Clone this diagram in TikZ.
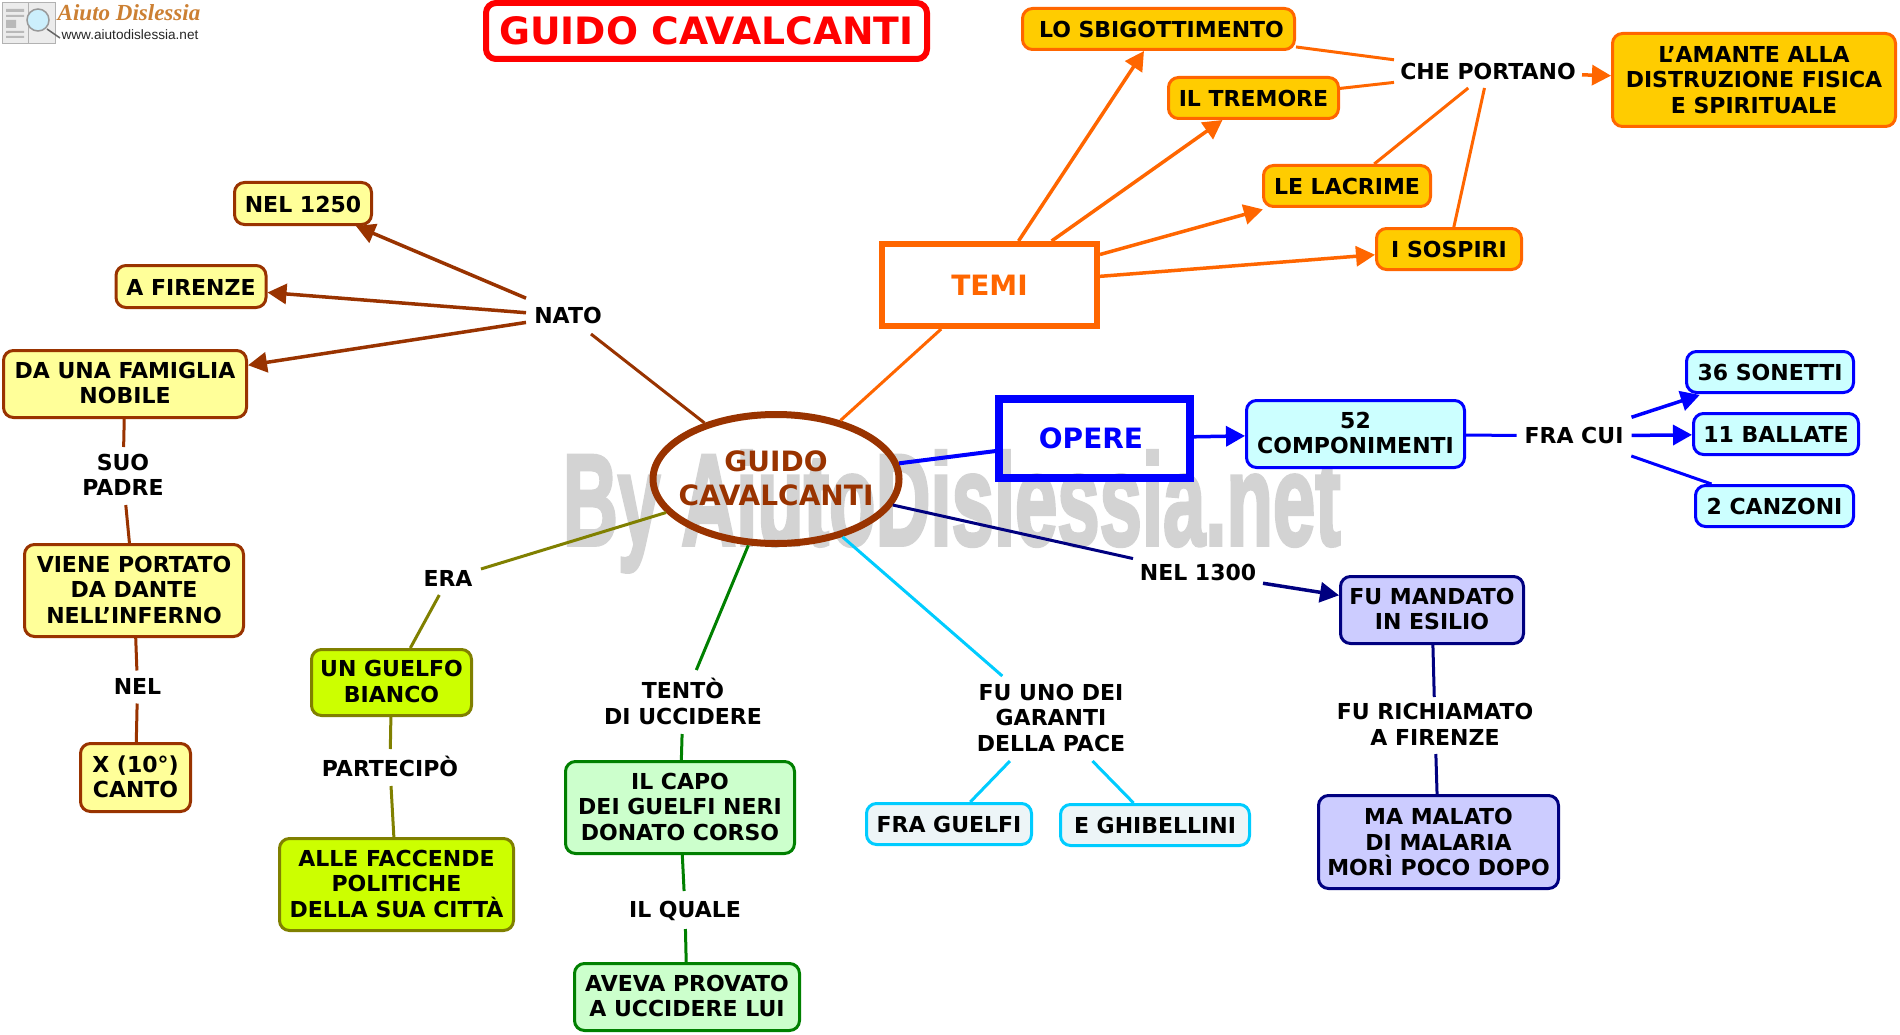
\documentclass[tikz,border=0pt]{standalone}
\usepackage{fontspec}
\setmainfont{DejaVu Sans}
\newfontfamily\wmfont{Liberation Sans}[BoldFeatures={FakeBold=3}]
\newfontfamily\urlfont{Liberation Sans}
\newfontfamily\logofont{Liberation Serif}
\usetikzlibrary{arrows.meta,shapes.geometric}
\definecolor{brn}{HTML}{993300}
\definecolor{orng}{HTML}{FF6600}
\definecolor{gold}{HTML}{FFCC00}
\definecolor{pyel}{HTML}{FFFF99}
\definecolor{pcy}{HTML}{CCFFFF}
\definecolor{ppur}{HTML}{CCCCFF}
\definecolor{navyc}{HTML}{000080}
\definecolor{oliv}{HTML}{808000}
\definecolor{lime}{HTML}{CCFF00}
\definecolor{grn}{HTML}{008000}
\definecolor{pgrn}{HTML}{CCFFCC}
\definecolor{skyc}{HTML}{00CCFF}
\definecolor{pale}{HTML}{EDF5F7}
\definecolor{wmgray}{HTML}{D3D3D3}
\newcommand{\nstr}{\vrule width 0pt height 20pt depth 5.6pt\relax}
\newcommand{\sstr}{\vrule width 0pt height 21.6pt depth 4pt\relax}
\newcommand{\mstr}{\vrule width 0pt height 23.6pt depth 2pt\relax}
\newcommand{\bstr}{\vrule width 0pt height 25pt depth 0pt\relax}
\tikzset{
 every node/.style={font=\fontsize{22}{25.6}\selectfont\bfseries,align=center,inner sep=0pt,outer sep=0pt,text=black},
 lab/.style={execute at begin node=\nstr,execute at end node=\nstr},
 slab/.style={execute at begin node=\sstr,execute at end node=\sstr},
 mlab/.style={execute at begin node=\mstr,execute at end node=\mstr},
 blab/.style={execute at begin node=\bstr,execute at end node=\bstr},
 bx/.style={draw,line width=3pt,rounded corners=10pt,outer sep=1.5pt},
 yb/.style={bx,draw=brn,fill=pyel},
 ob/.style={bx,draw=orng,fill=gold},
 cb/.style={bx,draw=blue,fill=pcy},
 pb/.style={bx,draw=navyc,fill=ppur},
 lb/.style={bx,draw=oliv,fill=lime},
 gb/.style={bx,draw=grn,fill=pgrn},
 sb/.style={bx,draw=skyc,fill=pale},
 con/.style={line width=3pt},
 arr/.style={line width=3.5pt,-{Triangle[length=19pt,width=20pt]}},
}
\begin{document}
\begin{tikzpicture}[x=1pt,y=-1pt]
\useasboundingbox (0,0) rectangle (1900,1035);
\fill[white] (0,0) rectangle (1900,1035);

% watermark
\node[anchor=base west,font=\wmfont\fontsize{130}{130}\selectfont\bfseries,text=wmgray,xscale=.585,transform shape] (wm) at (563,545) {\special{pdf:code 0.827 0.827 0.827 RG}By AiutoDislessia.net};

% logo
\fill[gray!15] (2,3) rectangle (55,44);
\draw[gray!60,line width=1pt] (2,3) rectangle (55,44) (28,3) -- (28,44);
\fill[gray!55] (6,9) rectangle (24,12) (6,15) rectangle (24,17) (6,20) rectangle (16,28) (6,31) rectangle (24,33) (6,36) rectangle (24,38);
\draw[black!60,line width=1.5pt] (47,29) -- (60,38);
\draw[gray!80,fill=cyan!20,line width=1.5pt] (38,20) circle (11);
\node[font=\logofont\fontsize{23}{25}\selectfont\bfseries\itshape,text=brown!80!orange] (logotitle) at (129,13) {Aiuto Dislessia};
\node[font=\urlfont\fontsize{13.6}{14}\selectfont,text=black!85] (logourl) at (130,35) {www.aiutodislessia.net};

% title
\node[draw=red,line width=6pt,rounded corners=10pt,font=\fontsize{37.7}{40}\selectfont\bfseries,text=red,minimum width=441pt,minimum height=56pt] (title) at (706.5,31) {GUIDO CAVALCANTI};

% central node
\node[ellipse,draw=brn,line width=7pt,outer sep=3.5pt,minimum width=246pt,minimum height=129pt,
  label={[font=\fontsize{28}{34}\selectfont\bfseries,text=brn,align=center,inner sep=0pt]center:\vrule width 0pt height 26.5pt depth 7.5pt GUIDO\\\vrule width 0pt height 26.5pt depth 7.5pt CAVALCANTI}] (main) at (776,479) {};

% left branch
\node[lab,minimum width=84pt,minimum height=36pt] (nato) at (568,316) {NATO};
\node[yb,slab,minimum width=137pt,minimum height=42pt] (nel1250) at (303,203.5) {NEL 1250};
\node[yb,slab,minimum width=150pt,minimum height=42pt] (afirenze) at (191,286.5) {A FIRENZE};
\node[yb,mlab,minimum width=243pt,minimum height=67pt] (famiglia) at (125,384) {DA UNA FAMIGLIA\\NOBILE};
\node[mlab,minimum width=99pt,minimum height=58pt] (suopadre) at (123,476) {SUO\\PADRE};
\node[yb,mlab,minimum width=219pt,minimum height=92pt] (viene) at (134,590.5) {VIENE PORTATO\\DA DANTE\\NELL'INFERNO};
\node[lab,minimum width=65pt,minimum height=33pt] (nellab) at (137.5,687) {NEL};
\node[yb,mlab,minimum width=110pt,minimum height=68pt] (canto) at (135.5,777.5) {X (10°)\\CANTO};

% era branch
\node[lab,minimum width=66pt,minimum height=32pt] (era) at (448,579) {ERA};
\node[lb,mlab,minimum width=160pt,minimum height=66pt] (guelfo) at (391.5,682.5) {UN GUELFO\\BIANCO};
\node[slab,minimum width=156pt,minimum height=37pt] (partecipo) at (390,767.5) {PARTECIPÒ};
\node[lb,mlab,minimum width=234pt,minimum height=92pt] (alle) at (396.5,884.5) {ALLE FACCENDE\\POLITICHE\\DELLA SUA CITTÀ};

% tento branch
\node[mlab,minimum width=176pt,minimum height=64pt] (tento) at (683,702) {TENTÒ\\DI UCCIDERE};
\node[gb,mlab,minimum width=229pt,minimum height=92pt] (capo) at (680,807.5) {IL CAPO\\DEI GUELFI NERI\\DONATO CORSO};
\node[lab,minimum width=130pt,minimum height=38pt] (quale) at (685,910) {IL QUALE};
\node[gb,mlab,minimum width=225pt,minimum height=67pt] (aveva) at (687,997) {AVEVA PROVATO\\A UCCIDERE LUI};

% garanti branch
\node[mlab,minimum width=161pt,minimum height=85pt] (garanti) at (1051,718.5) {FU UNO DEI\\GARANTI\\DELLA PACE};
\node[sb,slab,minimum width=165pt,minimum height=41pt] (fraguelfi) at (949,824) {FRA GUELFI};
\node[sb,slab,minimum width=189pt,minimum height=41pt] (ghibellini) at (1155,825) {E GHIBELLINI};

% nel 1300 branch
\node[lab,minimum width=130pt,minimum height=32pt] (nel1300) at (1198,573) {NEL 1300};
\node[pb,mlab,minimum width=183pt,minimum height=67pt] (mandato) at (1432,610) {FU MANDATO\\IN ESILIO};
\node[mlab,minimum width=214pt,minimum height=57pt] (richiamato) at (1435,725.5) {FU RICHIAMATO\\A FIRENZE};
\node[pb,blab,minimum width=240pt,minimum height=93pt] (malato) at (1438.5,842) {MA MALATO\\DI MALARIA\\MORÌ POCO DOPO};

% temi branch
\node[draw=orng,line width=6pt,outer sep=3pt,font=\fontsize{28}{30}\selectfont\bfseries,text=orng,minimum width=215pt,minimum height=82pt] (temi) at (989.5,285) {TEMI};
\node[ob,slab,minimum width=272pt,minimum height=41pt] (sbig) at (1158.5,29) {\hspace*{6pt}LO SBIGOTTIMENTO};
\node[ob,slab,minimum width=170pt,minimum height=41pt] (tremore) at (1253.5,98) {IL TREMORE};
\node[ob,slab,minimum width=167pt,minimum height=41pt] (lacrime) at (1347,186) {LE LACRIME};
\node[ob,slab,minimum width=145pt,minimum height=41pt] (sospiri) at (1449,249) {I SOSPIRI};
\node[lab,minimum width=188pt,minimum height=32pt] (che) at (1488,72) {CHE PORTANO};
\node[ob,blab,minimum width=283pt,minimum height=93pt] (amante) at (1754,80) {L’AMANTE ALLA\\DISTRUZIONE FISICA\\E SPIRITUALE};

% opere branch
\node[draw=blue,line width=8pt,outer sep=4pt,font=\fontsize{28}{30}\selectfont\bfseries,text=blue,minimum width=191pt,minimum height=79pt] (opere) at (1094.5,438.5) {OPERE\hspace*{7pt}};
\node[cb,mlab,minimum width=218pt,minimum height=67pt] (comp) at (1355.5,434) {52\\COMPONIMENTI};
\node[lab,minimum width=115pt,minimum height=40pt] (fracui) at (1574,436) {FRA CUI};
\node[cb,slab,minimum width=167pt,minimum height=41pt] (sonetti) at (1770,372) {36 SONETTI};
\node[cb,slab,minimum width=165pt,minimum height=41pt] (ballate) at (1776,434) {11 BALLATE};
\node[cb,slab,minimum width=158pt,minimum height=41pt] (canzoni) at (1774.5,506) {2 CANZONI};

% connectors
\draw[con,brn] (main) -- (nato);
\draw[arr,brn] (nato) -- (nel1250);
\draw[arr,brn] (nato) -- (afirenze);
\draw[arr,brn] (nato) -- (famiglia);
\draw[con,brn] (famiglia) -- (suopadre);
\draw[con,brn] (suopadre) -- (viene);
\draw[con,brn] (viene) -- (nellab);
\draw[con,brn] (nellab) -- (canto);

\draw[con,oliv] (main) -- (era);
\draw[con,oliv] (era) -- (guelfo);
\draw[con,oliv] (guelfo) -- (partecipo);
\draw[con,oliv] (partecipo) -- (alle);

\draw[con,grn] (main) -- (tento);
\draw[con,grn] (tento) -- (capo);
\draw[con,grn] (capo) -- (quale);
\draw[con,grn] (quale) -- (aveva);

\draw[con,skyc] (main) -- (garanti);
\draw[con,skyc] (garanti) -- (fraguelfi);
\draw[con,skyc] (garanti) -- (ghibellini);

\draw[con,navyc] (main) -- (nel1300);
\draw[arr,navyc] (nel1300) -- (mandato);
\draw[con,navyc] (mandato) -- (richiamato);
\draw[con,navyc] (richiamato) -- (malato);

\draw[con,orng] (main) -- (temi);
\draw[arr,orng] (temi) -- (sbig);
\draw[arr,orng] (temi) -- (tremore);
\draw[arr,orng,shorten >=5pt] (temi) -- (lacrime);
\draw[arr,orng] (temi) -- (sospiri);
\draw[con,orng] (sbig) -- (che);
\draw[con,orng] (tremore) -- (che);
\draw[con,orng] (lacrime) -- (che);
\draw[con,orng] (sospiri) -- (che);
\draw[arr,orng] (che) -- (amante);

\draw[con,blue,line width=4pt] (main) -- (opere);
\draw[arr,blue] (opere) -- (comp);
\draw[con,blue] (comp) -- (fracui);
\draw[arr,blue,shorten >=3pt] (fracui) -- (sonetti);
\draw[arr,blue] (fracui) -- (ballate);
\draw[con,blue] (fracui) -- (canzoni);
\end{tikzpicture}
\end{document}
